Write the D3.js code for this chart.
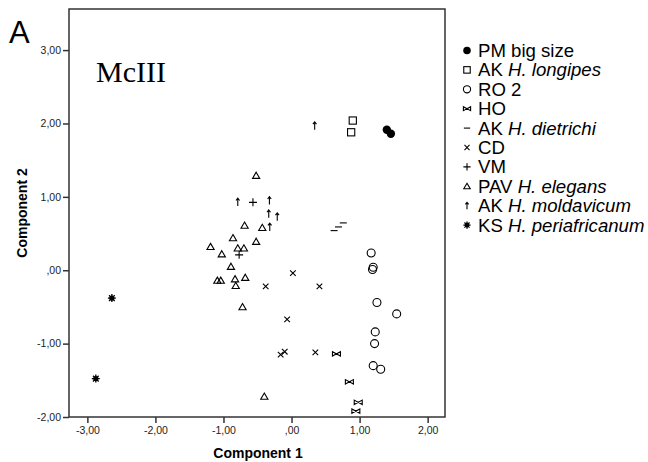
<!DOCTYPE html>
<html>
<head>
<meta charset="utf-8">
<script src="https://cdn.jsdelivr.net/npm/d3@7"></script>
<style>
  body { margin: 0; background: #fff; }
  text { font-family: "Liberation Sans", Arial, sans-serif; }
</style>
</head>
<body>
<div id="chart"></div>
<script>
// data: [component 1, component 2]
var pmBig = [[1.40, 1.915], [1.46, 1.86]];
var akLongipes = [[0.90, 2.04], [0.876, 1.88]];
var ro2 = [[1.17, 0.235], [1.20, 0.04], [1.19, 0.01], [1.255, -0.44], [1.545, -0.595],
           [1.23, -0.84], [1.22, -1.00], [1.20, -1.30], [1.31, -1.35]];
var ho = [[0.66, -1.14], [0.85, -1.52], [0.98, -1.80], [0.945, -1.92]];
var akDietrichi = [[0.625, 0.54], [0.69, 0.59], [0.76, 0.645]];
var cd = [[0.02, -0.04], [-0.38, -0.22], [0.41, -0.22], [-0.065, -0.67],
          [-0.16, -1.15], [-0.10, -1.11], [0.35, -1.12]];
var vm = [[-0.567, 0.925], [-0.77, 0.21]];
var pavElegans = [[-0.52, 1.29], [-0.69, 0.61], [-0.43, 0.58], [-0.86, 0.44], [-0.52, 0.39],
                  [-0.79, 0.30], [-0.70, 0.30], [-1.19, 0.32], [-1.025, 0.22], [-0.89, 0.05],
                  [-1.09, -0.14], [-1.04, -0.14], [-0.83, -0.12], [-0.68, -0.10], [-0.82, -0.21],
                  [-0.72, -0.50], [-0.40, -1.72]];
var akMoldavicum = [[0.34, 1.97], [-0.79, 0.93], [-0.325, 0.95], [-0.335, 0.77],
                    [-0.21, 0.73], [-0.32, 0.59]];
var ksPeriafricanum = [[-2.64, -0.38], [-2.876, -1.477]];

var xTicks = [-3, -2, -1, 0, 1, 2];
var xTickLabels = ["-3,00", "-2,00", "-1,00", ",00", "1,00", "2,00"];
var yTicks = [3, 2, 1, 0, -1, -2];
var yTickLabels = ["3,00", "2,00", "1,00", ",00", "-1,00", "-2,00"];

// legend: [symbol, plain prefix, italic part]
var groups = [
  {sym: "fcircle", data: pmBig, pre: "PM big size", it: ""},
  {sym: "square", data: akLongipes, pre: "AK ", it: "H. longipes"},
  {sym: "circle", data: ro2, pre: "RO 2", it: ""},
  {sym: "bowtie", data: ho, pre: "HO", it: ""},
  {sym: "dash", data: akDietrichi, pre: "AK ", it: "H. dietrichi"},
  {sym: "cross", data: cd, pre: "CD", it: ""},
  {sym: "plus", data: vm, pre: "VM", it: ""},
  {sym: "triangle", data: pavElegans, pre: "PAV ", it: "H. elegans"},
  {sym: "arrow", data: akMoldavicum, pre: "AK ", it: "H. moldavicum"},
  {sym: "star", data: ksPeriafricanum, pre: "KS ", it: "H. periafricanum"}
];

var W = 648, H = 462;
var box = {left: 69, top: 9, right: 445, bottom: 417};

var svg = d3.select("#chart").append("svg")
  .attr("width", W).attr("height", H);

var x = d3.scaleLinear().domain([-3.27, 2.255]).range([box.left, box.right]);
var y = d3.scaleLinear().domain([-2, 3.56]).range([box.bottom, box.top]);

// frame
svg.append("rect")
  .attr("x", box.left).attr("y", box.top)
  .attr("width", box.right - box.left).attr("height", box.bottom - box.top)
  .attr("fill", "none").attr("stroke", "#333").attr("stroke-width", 1.5);

var xAxis = svg.append("g")
  .attr("transform", "translate(0," + box.bottom + ")")
  .call(d3.axisBottom(x).tickValues(xTicks).tickSize(6).tickPadding(4)
    .tickFormat(function (d, i) { return xTickLabels[i]; }));
var yAxis = svg.append("g")
  .attr("transform", "translate(" + box.left + ",0)")
  .call(d3.axisLeft(y).tickValues(yTicks).tickSize(6).tickPadding(2)
    .tickFormat(function (d, i) { return yTickLabels[i]; }));
[xAxis, yAxis].forEach(function (a) {
  a.select(".domain").remove();
  a.selectAll(".tick line").attr("stroke", "#333").attr("stroke-width", 1.5);
  a.selectAll(".tick text").attr("fill", "#222").style("font-size", "10.5px")
    .style("font-family", "Liberation Sans, Arial, sans-serif");
});

// axis titles
svg.append("text")
  .attr("x", 258).attr("y", 458)
  .attr("text-anchor", "middle")
  .style("font-size", "14px").style("font-weight", "bold")
  .text("Component 1");
svg.append("text")
  .attr("transform", "translate(27," + ((box.top + box.bottom) / 2) + ") rotate(-90)")
  .attr("text-anchor", "middle")
  .style("font-size", "14px").style("font-weight", "bold")
  .text("Component 2");

// panel letter and title
svg.append("text").attr("x", 9).attr("y", 43)
  .style("font-size", "31px").text("A");
svg.append("text").attr("x", 96).attr("y", 82)
  .style("font-family", "Liberation Serif, Times New Roman, serif")
  .style("font-size", "30px").text("McIII");

// marker drawing
function drawSymbol(g, sym, s) {
  var k = s / 4;
  if (sym === "fcircle") {
    g.append("circle").attr("r", 4.2 * k).attr("fill", "#000");
  } else if (sym === "circle") {
    g.append("circle").attr("r", 4 * k).attr("fill", "none").attr("stroke", "#000").attr("stroke-width", 1.1);
  } else if (sym === "square") {
    g.append("rect").attr("x", -3.6 * k).attr("y", -3.6 * k).attr("width", 7.2 * k).attr("height", 7.2 * k)
      .attr("fill", "none").attr("stroke", "#000").attr("stroke-width", 1.1);
  } else if (sym === "triangle") {
    g.append("path").attr("d", "M0," + (-3.4 * k) + "L" + (3.6 * k) + "," + (2.8 * k) + "L" + (-3.6 * k) + "," + (2.8 * k) + "Z")
      .attr("fill", "none").attr("stroke", "#000").attr("stroke-width", 1.1);
  } else if (sym === "cross") {
    g.append("path").attr("d", "M" + (-2.8 * k) + "," + (-2.8 * k) + "L" + (2.8 * k) + "," + (2.8 * k) +
      "M" + (2.8 * k) + "," + (-2.8 * k) + "L" + (-2.8 * k) + "," + (2.8 * k))
      .attr("stroke", "#000").attr("stroke-width", 1.1);
  } else if (sym === "plus") {
    g.append("path").attr("d", "M" + (-4 * k) + ",0L" + (4 * k) + ",0M0," + (-4 * k) + "L0," + (4 * k))
      .attr("stroke", "#000").attr("stroke-width", 1.1);
  } else if (sym === "dash") {
    g.append("path").attr("d", "M" + (-3.5 * k) + ",0L" + (3.5 * k) + ",0")
      .attr("stroke", "#000").attr("stroke-width", 1.1);
  } else if (sym === "bowtie") {
    g.append("path").attr("d", "M" + (-4 * k) + "," + (-2.2 * k) + "L" + (-4 * k) + "," + (2.2 * k) + "L" + (4 * k) + "," + (-2.2 * k) +
      "L" + (4 * k) + "," + (2.2 * k) + "Z")
      .attr("fill", "none").attr("stroke", "#000").attr("stroke-width", 1.1);
  } else if (sym === "arrow") {
    g.append("path").attr("d", "M0," + (4 * k) + "L0," + (-3.5 * k) +
      "M" + (-1.8 * k) + "," + (-1.5 * k) + "L0," + (-3.8 * k) + "L" + (1.8 * k) + "," + (-1.5 * k))
      .attr("fill", "none").attr("stroke", "#000").attr("stroke-width", 1.1);
  } else if (sym === "star") {
    var d = "";
    for (var i = 0; i < 8; i++) {
      var a = i * Math.PI / 4;
      d += "M0,0L" + (4 * k * Math.cos(a)) + "," + (4 * k * Math.sin(a));
    }
    g.append("path").attr("d", d).attr("stroke", "#000").attr("stroke-width", 1.3);
    g.append("circle").attr("r", 2.6 * k).attr("fill", "#000");
  }
}

// points
groups.forEach(function (grp) {
  grp.data.forEach(function (p) {
    var g = svg.append("g").attr("transform", "translate(" + x(p[0]) + "," + y(p[1]) + ")");
    drawSymbol(g, grp.sym, 4);
  });
});

// legend
var legend = svg.append("g").attr("transform", "translate(467,50.5)");
groups.forEach(function (grp, i) {
  var row = legend.append("g").attr("transform", "translate(0," + (i * 19.4) + ")");
  drawSymbol(row.append("g"), grp.sym, 3.6);
  var t = row.append("text").attr("x", 11).attr("y", 6.5).style("font-size", "18.6px").attr("fill", "#000");
  t.append("tspan").text(grp.pre);
  if (grp.it) t.append("tspan").style("font-style", "italic").text(grp.it);
});
</script>
</body>
</html>
